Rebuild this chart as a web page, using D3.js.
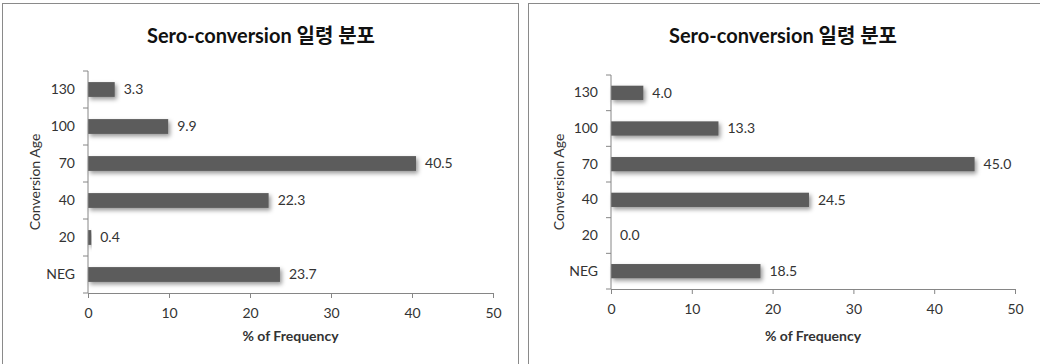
<script src="https://d3js.org/d3.v7.min.js"></script>
<style>
  body { margin: 0; background: #fff; }
  svg text { font-family: Lato, "Noto Sans CJK KR", sans-serif; fill: #333; }
</style>
<div id="chart"></div>
<script>
// data
var categories = ["NEG", "20", "40", "70", "100", "130"];
var leftValues = [23.7, 0.4, 22.3, 40.5, 9.9, 3.3];
var rightValues = [18.5, 0.0, 24.5, 45.0, 13.3, 4.0];
var xTicks = [0, 10, 20, 30, 40, 50];
var chartTitle = "Sero-conversion 일령 분포";
var xTitle = "% of Frequency";
var yTitle = "Conversion Age";

var panels = [
  {values: leftValues,  frameX: 2.5,   left: 88,  right: 493,  top: 71, bottom: 293, titleX: 261, yTitleX: 35},
  {values: rightValues, frameX: 528.5, left: 611, right: 1015, top: 75, bottom: 289, titleX: 783, yTitleX: 559}
];

var svg = d3.select("#chart")
  .append("svg")
    .attr("width", 1040)
    .attr("height", 364);

var defs = svg.append("defs");
var f = defs.append("filter")
    .attr("id", "shadow")
    .attr("x", "-10%").attr("y", "-60%")
    .attr("width", "130%").attr("height", "240%");
f.append("feDropShadow")
    .attr("dx", 2).attr("dy", 2.5)
    .attr("stdDeviation", 2)
    .attr("flood-color", "#000")
    .attr("flood-opacity", 0.4);

panels.forEach(function(p) {
  var g = svg.append("g");

  // frame
  g.append("rect")
    .attr("x", p.frameX)
    .attr("y", 3.5)
    .attr("width", p.frameX < 100 ? 516 : 600)
    .attr("height", 420)
    .attr("fill", "#fff")
    .attr("stroke", "#8a8a8a");

  g.append("text")
    .attr("x", p.titleX)
    .attr("y", 43)
    .attr("text-anchor", "middle")
    .style("font-size", "20px")
    .style("font-weight", "bold")
    .style("fill", "#111")
    .text(chartTitle);

  var x = d3.scaleLinear()
    .domain([0, 50])
    .range([p.left, p.right]);

  var y = d3.scaleBand()
    .domain(categories.slice().reverse())
    .range([p.top, p.bottom]);

  var bw = y.bandwidth();

  // bars
  g.selectAll(".bar")
    .data(categories)
    .enter().append("rect")
      .attr("x", x(0))
      .attr("y", function(d) { return y(d) + bw * 0.3; })
      .attr("width", function(d, i) { return x(p.values[i]) - x(0); })
      .attr("height", bw * 0.4)
      .attr("fill", "#5b5b5b")
      .attr("filter", "url(#shadow)");

  // value labels
  g.selectAll(".val")
    .data(categories)
    .enter().append("text")
      .attr("x", function(d, i) { return x(p.values[i]) + 9; })
      .attr("y", function(d) { return y(d) + bw / 2; })
      .attr("dy", "0.35em")
      .style("font-size", "14px")
      .text(function(d, i) { return p.values[i].toFixed(1); });

  // x axis
  var xa = g.append("g")
    .attr("transform", "translate(0," + p.bottom + ")")
    .call(d3.axisBottom(x).tickValues(xTicks).tickSize(5).tickPadding(10).tickSizeOuter(0));
  xa.select(".domain").attr("stroke", "#868686");
  xa.selectAll(".tick line").attr("stroke", "#868686");
  xa.selectAll("text").style("font-size", "14px").style("font-family", null).attr("fill", "#333");

  // y axis: labels from the band scale, ticks at band edges
  var ya = g.append("g")
    .attr("transform", "translate(" + p.left + ",0)")
    .call(d3.axisLeft(y).tickSize(0).tickPadding(13));
  ya.select(".domain").remove();
  ya.selectAll("text").style("font-size", "14px").style("font-family", null).attr("fill", "#333");

  g.append("line")
    .attr("x1", p.left).attr("x2", p.left)
    .attr("y1", p.top).attr("y2", p.bottom)
    .attr("stroke", "#868686");

  var edges = categories.map(function(c) { return y(c); }).concat([p.bottom]);
  g.selectAll(".ytick")
    .data(edges)
    .enter().append("line")
      .attr("x1", p.left - 5).attr("x2", p.left)
      .attr("y1", function(d) { return d; })
      .attr("y2", function(d) { return d; })
      .attr("stroke", "#868686");

  // axis titles
  g.append("text")
    .attr("x", (p.left + p.right) / 2)
    .attr("y", 341)
    .attr("text-anchor", "middle")
    .style("font-size", "14px")
    .style("font-weight", "bold")
    .text(xTitle);

  g.append("text")
    .attr("transform", "translate(" + p.yTitleX + "," + ((p.top + p.bottom) / 2) + ") rotate(-90)")
    .attr("text-anchor", "middle")
    .attr("dy", "0.35em")
    .style("font-size", "14px")
    .text(yTitle);
});
</script>
